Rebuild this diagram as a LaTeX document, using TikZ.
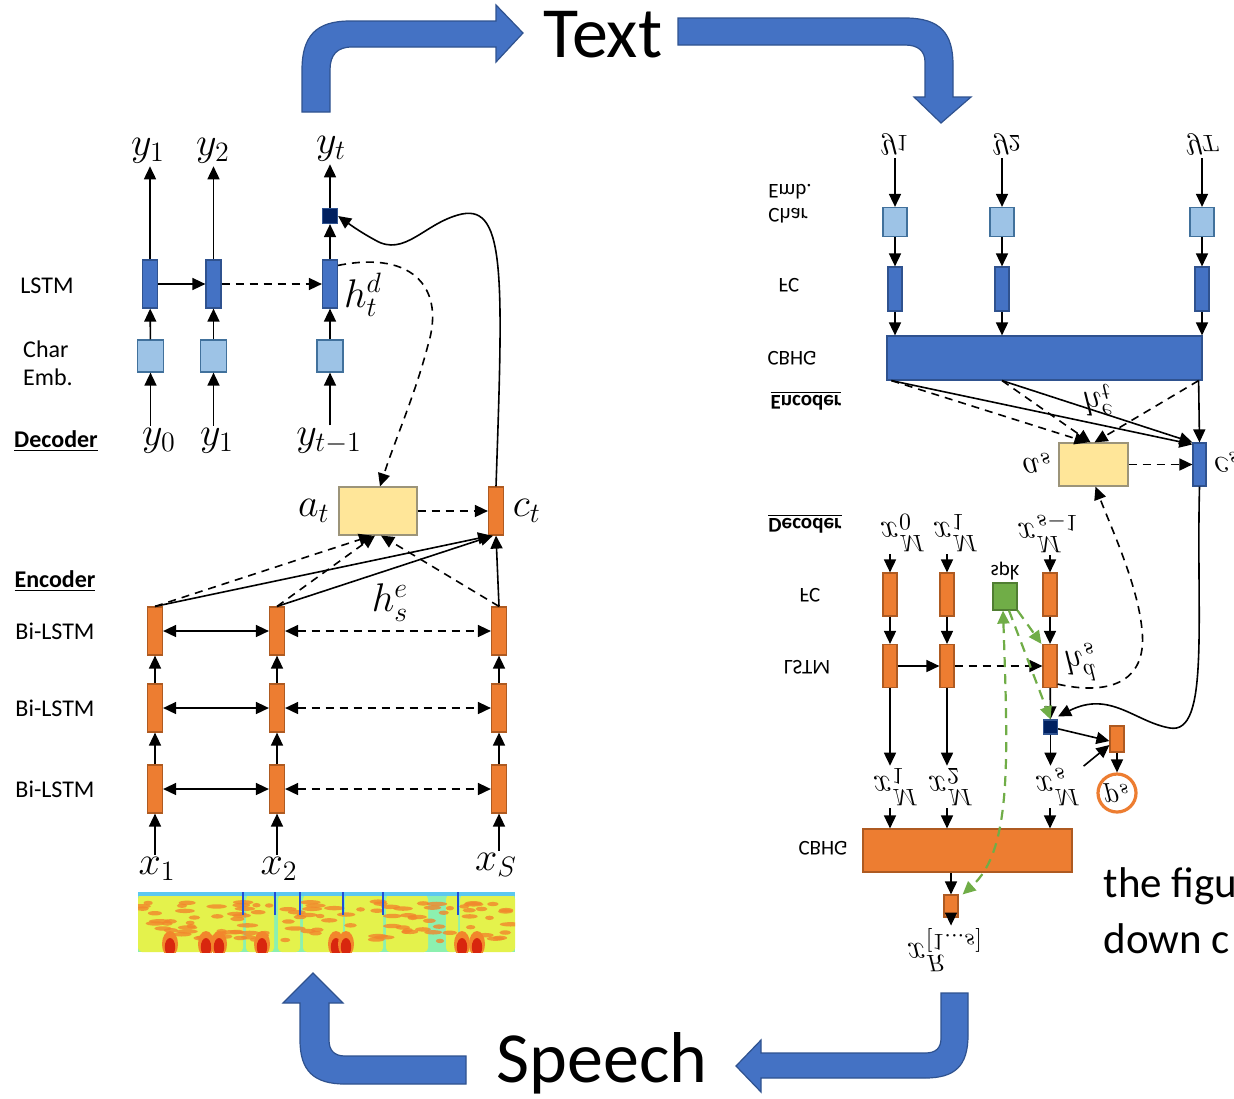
\RequirePackage{fix-cm}
\documentclass[tikz,border=0pt]{standalone}
\usepackage[no-math]{fontspec}
\setmainfont{Carlito}
\usetikzlibrary{arrows.meta}
\usetikzlibrary{positioning}
\definecolor{lstmblue}{HTML}{4472C4}
\definecolor{blueedge}{HTML}{2F528F}
\definecolor{embblue}{HTML}{9DC3E6}
\definecolor{embedge}{HTML}{41719C}
\definecolor{lstmorange}{HTML}{ED7D31}
\definecolor{orangeedge}{HTML}{AE5A21}
\definecolor{attyellow}{HTML}{FFE699}
\definecolor{attedge}{HTML}{9C9479}
\definecolor{navy}{HTML}{002060}
\definecolor{spkgreen}{HTML}{70AD47}
\definecolor{spkedge}{HTML}{507E32}
\definecolor{jetcyan}{HTML}{8CF0B0}
\definecolor{jetsky}{HTML}{5CC8F0}
\definecolor{jetyellow}{HTML}{E4F24C}
\definecolor{jetorange}{HTML}{F2862C}
\definecolor{jetred}{HTML}{D8260E}
\definecolor{jetblue}{HTML}{1F4FD8}

\tikzset{
  cell/.style={draw, line width=0.6pt, inner sep=0pt, minimum width=7.5pt, minimum height=24pt},
  lstm/.style={cell, fill=lstmblue, draw=blueedge},
  bilstm/.style={cell, fill=lstmorange, draw=orangeedge},
  emb/.style={cell, fill=embblue, draw=embedge, minimum width=13pt, minimum height=16pt},
  attn/.style={cell, fill=attyellow, draw=attedge, minimum width=39pt},
  outsq/.style={cell, fill=navy, draw=blueedge, minimum width=7.5pt, minimum height=7.5pt},
  rowlbl/.style={font=\fontsize{12}{14}\selectfont, align=left, inner sep=1pt},
  partlbl/.style={font=\fontsize{12}{14}\selectfont\bfseries, inner sep=1pt},
  smallrow/.style={font=\fontsize{10.5}{12}\selectfont, align=left, inner sep=1pt},
  smallpart/.style={font=\fontsize{10.5}{12}\selectfont\bfseries, inner sep=1pt},
  sym/.style={font=\fontsize{20}{22}\selectfont, inner sep=1pt},
  smallsym/.style={font=\fontsize{17}{19}\selectfont, inner sep=1pt},
  flip/.style={yscale=-1},
  bigword/.style={font=\fontsize{36}{40}\selectfont, inner sep=0pt},
  note/.style={font=\fontsize{21.5}{24}\selectfont, anchor=base west, inner sep=0pt},
  bent/.style={fill=lstmblue, draw=blueedge, line width=0.6pt},
  dashes/.style={dash pattern=on 4pt off 3pt},
  spkline/.style={draw=spkgreen, line width=1.1pt, dash pattern=on 5pt off 3.5pt},
}

\begin{document}
\begin{tikzpicture}[x=0.5pt,y=-0.5pt,line width=0.8pt,>={Triangle[length=6.5pt,width=6pt]}]
\useasboundingbox (0,0) rectangle (1234,1098);
\fill[white] (0,0) rectangle (1234,1098);

% big loop arrows
\node[bigword] (txt) at (603,35) {Text};
\node[bigword] (speech) at (602,1063) {Speech};
\filldraw[bent] (302,112) -- (302,70) .. controls (302,36) and (316,21) .. (350,21) -- (496,21) -- (496,5)
  -- (523,33) -- (496,62) -- (496,47) -- (352,47) .. controls (337,47) and (330,55) .. (330,70) -- (330,112) -- cycle;
\filldraw[bent] (678,18) -- (905,18) .. controls (940,18) and (953,33) .. (953,65) -- (953,97) -- (971,97)
  -- (941,123) -- (914,97) -- (925,97) -- (925,62) .. controls (925,51) and (918,45) .. (905,45) -- (678,45) -- cycle;
\filldraw[bent] (941,993) -- (968,993) -- (968,1035) .. controls (968,1066) and (955,1078) .. (925,1078) -- (761,1078)
  -- (761,1092) -- (736,1066) -- (761,1040) -- (761,1053) -- (925,1053) .. controls (936,1053) and (941,1048) .. (941,1038) -- cycle;
\filldraw[bent] (466,1056) -- (345,1056) .. controls (334,1056) and (329,1050) .. (329,1040) -- (329,1003) -- (343,1003)
  -- (313,973) -- (283,1003) -- (300,1003) -- (300,1040) .. controls (300,1071) and (314,1084) .. (345,1084) -- (466,1084) -- cycle;

% ---------- speech recognition ----------
\node[rowlbl] (lLstm) at (47,286) {LSTM};
\node[rowlbl] (lEmb) at (48,363) {Char\\Emb.};
\node[partlbl] (lDec) at (56,441) {\underline{Decoder}};
\node[partlbl] (lEnc) at (55,581) {\underline{Encoder}};

\node[lstm] (dL1) at (150,284) {};
\node[lstm] (dL2) at (213.5,284) {};
\node[lstm] (dL3) at (330,284) {};
\node[emb] (dE1) at (150.5,356) {};
\node[emb] (dE2) at (213.5,356) {};
\node[emb] (dE3) at (330,356) {};
\node[outsq] (dOut) at (330,216) {};
\node[sym] (yOut1) at (148,151) {$y_1$};
\node[sym] (yOut2) at (213,151) {$y_2$};
\node[sym] (yOut3) at (331,149) {$y_t$};
\node[sym] (yIn1) at (159,441) {$y_0$};
\node[sym] (yIn2) at (217,441) {$y_1$};
\node[sym] (yIn3) at (329,441) {$y_{t-1}$};
\node[sym] (hd) at (363,295) {$h_t^d$};

\foreach \c in {1,2,3} {
  \draw[->] (dE\c |- yIn\c.north) -- (dE\c);
  \draw[->] (dE\c) -- (dL\c);
}
\draw[->] (dL1) -- (dL1 |- yOut1.south);
\draw[->] (dL2) -- (dL2 |- yOut2.south);
\draw[->] (dL3) -- (dOut);
\draw[->] (dOut) -- (dOut |- yOut3.south);
\draw[->] (dL1) -- (dL2);
\draw[->,dashes] (dL2) -- (dL3);

\node[attn] (att) at (378,511) {};
\node[sym, left=3pt of att] (atLbl) {$a_t$};
\node[bilstm] (ctx) at (496,511) {};
\node[sym, right=3pt of ctx] (ctLbl) {$c_t$};
\draw[->,dashes] (att) -- (ctx);

\foreach \r/\yy in {1/631,2/708,3/789} {
  \node[rowlbl] (lBi\r) at (55,\yy) {Bi-LSTM};
  \foreach \c/\xx in {1/155,2/277,3/499}
    \node[bilstm] (e\r\c) at (\xx,\yy) {};
  \draw[<->] (e\r1) -- (e\r2);
  \draw[<->,dashes] (e\r2) -- (e\r3);
}
\node[sym] (xIn1) at (157,869) {$x_1$};
\node[sym] (xIn2) at (279,869) {$x_2$};
\node[sym] (xIn3) at (496,865) {$x_S$};
\foreach \c in {1,2,3} {
  \draw[->] (e3\c |- xIn\c.north) -- (e3\c);
  \draw[->] (e3\c) -- (e2\c);
  \draw[->] (e2\c) -- (e1\c);
}
\node[sym] (he) at (390,603) {$h_s^e$};

% attention over encoder states
\draw[->,dashes] (e11.north) -- ([xshift=-3pt]att.south);
\draw[->] (e11.north) -- ([xshift=-2.5pt]ctx.south);
\draw[->,dashes] (e12.north) -- ([xshift=-1.5pt]att.south);
\draw[->] (e12.north) -- ([xshift=-1.5pt]ctx.south);
\draw[->,dashes] (e13.north) -- ([xshift=1.5pt]att.south);
\draw[->] (e13.north) -- (ctx.south);
\draw[->,dashes] ([yshift=-3pt]dL3.north east) .. controls (415,250) and (445,290) .. (428,345)
  .. controls (415,395) and (395,440) .. ([xshift=1pt]att.north);
\draw[->] (ctx.north) .. controls (503,280) and (506,205) .. (462,214)
  .. controls (425,222) and (405,258) .. (375,240) .. controls (362,233) and (352,226) .. (dOut.east);

% spectrogram
\begin{scope}
  \clip (138,892) rectangle (515,952);
  \fill[jetcyan] (138,892) rectangle (515,952);
  \foreach \a/\b in {138/243,246/274,278/300,303/343,345/383,386/428,446/458,460/515}
    \fill[jetyellow, rounded corners=2pt] (\a,895) rectangle (\b,952);
  \pgfmathsetseed{7}
  \foreach \i in {1,...,110} {
    \pgfmathsetmacro{\sx}{141+370*rnd}
    \pgfmathsetmacro{\sy}{901+40*rnd}
    \pgfmathsetmacro{\sw}{2+3.5*rnd}
    \fill[jetorange, opacity=0.8] (\sx,\sy) ellipse (\sw pt and 1.1pt);
  }
  \foreach \x in {170,206,219,262,336,346,462,477} {
    \fill[jetorange] (\x,944) ellipse (4pt and 6.5pt);
    \fill[jetred] (\x,947) ellipse (2.6pt and 4.5pt);
  }
  \fill[jetsky] (138,892) rectangle (515,896);
  \foreach \x in {243,275,300,343,383,458}
    \draw[jetblue, line width=1pt] (\x,892) -- (\x,915);
\end{scope}

% ---------- speech synthesis (shown flipped) ----------
\node[smallrow, flip] (rEmb) at (790,204) {Char\\Emb.};
\node[smallrow, flip] (rFc) at (789,285) {FC};
\node[smallrow, flip] (rCbhg) at (792,358) {CBHG};
\node[smallpart, flip] (rEnc) at (806,401) {\underline{Encoder}};
\node[smallpart, flip] (rDec) at (805,524) {\underline{Decoder}};
\node[smallrow, flip] (rFc2) at (810,595) {FC};
\node[smallrow, flip] (rLstm) at (807,667) {LSTM};
\node[smallrow, flip] (rCbhg2) at (823,848) {CBHG};

\node[smallsym, flip] (ty1) at (895,145) {$y_1$};
\node[smallsym, flip] (ty2) at (1007,145) {$y_2$};
\node[smallsym, flip] (ty3) at (1203,145) {$y_T$};
\foreach \c/\xx in {1/895,2/1002,3/1202} {
  \node[emb, minimum width=12pt, minimum height=14.5pt] (tE\c) at (\xx,222) {};
  \node[lstm, minimum width=7pt, minimum height=22pt] (tF\c) at (\xx,289) {};
  \draw[->] (tE\c |- ty\c.north) -- (tE\c);
  \draw[->] (tE\c) -- (tF\c);
}
\node[cell, fill=lstmblue, draw=blueedge, minimum width=157.5pt, minimum height=22pt] (tCbhg) at (1044.5,358) {};
\foreach \c in {1,2,3}
  \draw[->] (tF\c) -- (tF\c |- tCbhg.north);

\node[attn, minimum width=34.5pt, minimum height=21.5pt] (tAtt) at (1093.5,464.5) {};
\node[lstm, minimum width=6.5pt, minimum height=21.5pt] (tCtx) at (1199.5,464.5) {};
\node[smallsym, flip] (asLbl) at (1037,463) {$a_s$};
\node[smallsym, flip] (csLbl) at (1227,462) {$c_s$};
\node[smallsym, flip] (hte) at (1098,400) {$h_t^e$};
\draw[->,dashes] (tAtt) -- (tCtx);
\draw[->,dashes] ([xshift=2.5pt]tCbhg.south west) -- ([xshift=-3pt]tAtt.north);
\draw[->] ([xshift=2.5pt]tCbhg.south west) -- ([yshift=-1pt]tCtx.north west);
\draw[->,dashes] (tF2 |- tCbhg.south) -- ([xshift=-1.5pt]tAtt.north);
\draw[->] (tF2 |- tCbhg.south) -- (tCtx.north west);
\draw[->,dashes] ([xshift=-2pt]tCbhg.south east) -- ([xshift=0.5pt]tAtt.north);
\draw[->] ([xshift=-2pt]tCbhg.south east) -- (tCtx.north);

\node[smallsym, flip] (xm1) at (903,533) {$x^M_0$};
\node[smallsym, flip] (xm2) at (956,533) {$x^M_1$};
\node[smallsym, flip] (xm3) at (1048,533) {$x^M_{s-1}$};
\foreach \c/\xx in {1/890,2/947,3/1050} {
  \node[bilstm, minimum width=7pt, minimum height=21.5pt] (sF\c) at (\xx,594.5) {};
  \node[bilstm, minimum width=7pt, minimum height=21.5pt] (sL\c) at (\xx,666) {};
  \draw[->] (xm\c.north -| sF\c) -- (sF\c);
  \draw[->] (sF\c) -- (sL\c);
}
\draw[->] (sL1) -- (sL2);
\draw[->,dashes] (sL2) -- (sL3);
\node[smallsym, flip] (hds) at (1080,662) {$h_s^d$};

\node[cell, fill=spkgreen, draw=spkedge, minimum width=12pt, minimum height=13.5pt] (spk) at (1005,596.5) {};
\node[smallrow, flip] (spkLbl) at (1005,571) {spk};
\node[outsq, minimum width=7pt, minimum height=7pt] (sOut) at (1050.5,727) {};
\draw[->] (sL3) -- (sOut);

\node[smallsym, flip] (xb1) at (896,787) {$x^M_1$};
\node[smallsym, flip] (xb2) at (951,787) {$x^M_2$};
\node[smallsym, flip] (xb3) at (1058,787) {$x^M_s$};
\draw[->] (sL1) -- (xb1.south -| sL1);
\draw[->] (sL2) -- (xb2.south -| sL2);
\draw[->] (sOut) -- (xb3.south -| sOut);

\node[bilstm, minimum width=7pt, minimum height=13pt] (stop) at (1117,739) {};
\node[circle, draw=lstmorange, line width=1.6pt, minimum size=19pt, inner sep=0pt,
  font=\fontsize{15}{17}\selectfont, flip] (ps) at (1117,793) {$p_s$};
\draw[->] (sOut) -- ([yshift=-1pt]stop.west);
\draw[->] (xb3) -- ([yshift=-3pt]stop.west);
\draw[->] (stop) -- (ps);

\node[cell, fill=lstmorange, draw=orangeedge, minimum width=104.5pt, minimum height=21.5pt] (sCbhg) at (967.5,850.5) {};
\foreach \c in {1,2,3}
  \draw[->] (xb\c.north -| sL\c) -- (sL\c |- sCbhg.north);
\node[bilstm, minimum width=7pt, minimum height=11pt] (post) at (951,906) {};
\node[smallsym, flip] (xR) at (945,950) {$x^R_{[1...s]}$};
\draw[->] (sCbhg.south -| post) -- (post);
\draw[->] (post) -- (xR.south -| post);

% attention and context paths
\draw[->,dashes] ([yshift=2pt]sL3.south east) .. controls (1105,695) and (1148,685) .. (1142,630)
  .. controls (1138,585) and (1110,525) .. ([xshift=1pt]tAtt.south);
\draw[->] (tCtx.south) .. controls (1196,620) and (1210,735) .. (1170,728)
  .. controls (1135,722) and (1110,690) .. ([yshift=1.5pt]sOut.north east);

% speaker embedding
\draw[->,spkline] (spk.south east) -- ([xshift=-0.5pt]sL3.north west);
\draw[->,spkline] ([xshift=2pt]spk.south) -- (sOut.north);
\draw[<->,spkline] ([xshift=-1pt]spk.south) .. controls (1008,760) and (1012,850) .. ([xshift=2pt]post.north east);

\node[note] (fig1) at (1103,897) {the figu};
\node[note] (fig2) at (1103,953) {down c};
\end{tikzpicture}
\end{document}
